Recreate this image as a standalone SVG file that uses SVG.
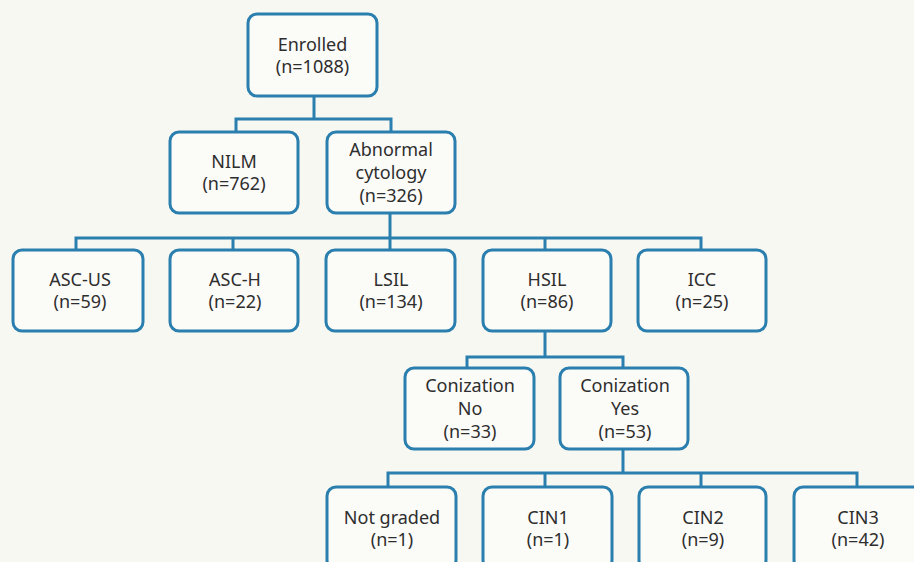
<svg xmlns="http://www.w3.org/2000/svg" width="914" height="562" viewBox="0 0 914 562">
<style>
.box{fill:#fbfbf8;stroke:#2a7fae;stroke-width:3}
.con{fill:none;stroke:#2a7fae;stroke-width:3;stroke-linecap:square}
text{font-family:"Noto Sans","Open Sans","DejaVu Sans",sans-serif;font-size:18px;fill:#2e2e2e;text-anchor:middle}
</style>
<rect x="0" y="0" width="914" height="562" fill="#f8f8f3"/>
<g id="connectors">
<path class="con" d="M314 96V119M236 119H391M236 119V132M391 119V132"/>
<path class="con" d="M390 213V249M76 238H701M76 238V249M233 238V249M545 238V249M701 238V249"/>
<path class="con" d="M545 331V357M467 357H623M467 357V368M623 357V368"/>
<path class="con" d="M623 449V473M388 473H857M388 473V487M545 473V487M701 473V487M857 473V487"/>
</g>
<g id="enrolled"><rect class="box" x="248" y="14" width="129" height="82" rx="9"/><text x="312.5" y="51">Enrolled</text><text x="312.5" y="73">(n=1088)</text></g>
<g id="nilm"><rect class="box" x="170" y="132" width="128" height="81" rx="9"/><text x="234" y="168">NILM</text><text x="234" y="190">(n=762)</text></g>
<g id="abnormal"><rect class="box" x="327" y="132" width="128" height="81" rx="9"/><text x="391" y="156">Abnormal</text><text x="391" y="179">cytology</text><text x="391" y="202">(n=326)</text></g>
<g id="ascus"><rect class="box" x="13" y="250" width="130" height="81" rx="9"/><text x="80" y="286">ASC-US</text><text x="80" y="308">(n=59)</text></g>
<g id="asch"><rect class="box" x="170" y="250" width="128" height="81" rx="9"/><text x="235" y="286">ASC-H</text><text x="235" y="308">(n=22)</text></g>
<g id="lsil"><rect class="box" x="326" y="250" width="129" height="81" rx="9"/><text x="391" y="286">LSIL</text><text x="391" y="308">(n=134)</text></g>
<g id="hsil"><rect class="box" x="483" y="250" width="128" height="81" rx="9"/><text x="547" y="286">HSIL</text><text x="547" y="308">(n=86)</text></g>
<g id="icc"><rect class="box" x="638" y="250" width="128" height="81" rx="9"/><text x="702" y="286">ICC</text><text x="702" y="308">(n=25)</text></g>
<g id="conization-no"><rect class="box" x="405" y="368" width="129" height="81" rx="9"/><text x="470" y="392">Conization</text><text x="470" y="415">No</text><text x="470" y="438">(n=33)</text></g>
<g id="conization-yes"><rect class="box" x="560" y="368" width="128" height="81" rx="9"/><text x="625" y="392">Conization</text><text x="625" y="415">Yes</text><text x="625" y="438">(n=53)</text></g>
<g id="not-graded"><rect class="box" x="327" y="487" width="129" height="82" rx="9"/><text x="392" y="524">Not graded</text><text x="392" y="546">(n=1)</text></g>
<g id="cin1"><rect class="box" x="483" y="487" width="129" height="82" rx="9"/><text x="548" y="524">CIN1</text><text x="548" y="546">(n=1)</text></g>
<g id="cin2"><rect class="box" x="639" y="487" width="127" height="82" rx="9"/><text x="703" y="524">CIN2</text><text x="703" y="546">(n=9)</text></g>
<g id="cin3"><rect class="box" x="794" y="487" width="129" height="82" rx="9"/><text x="858" y="524">CIN3</text><text x="858" y="546">(n=42)</text></g>
</svg>
